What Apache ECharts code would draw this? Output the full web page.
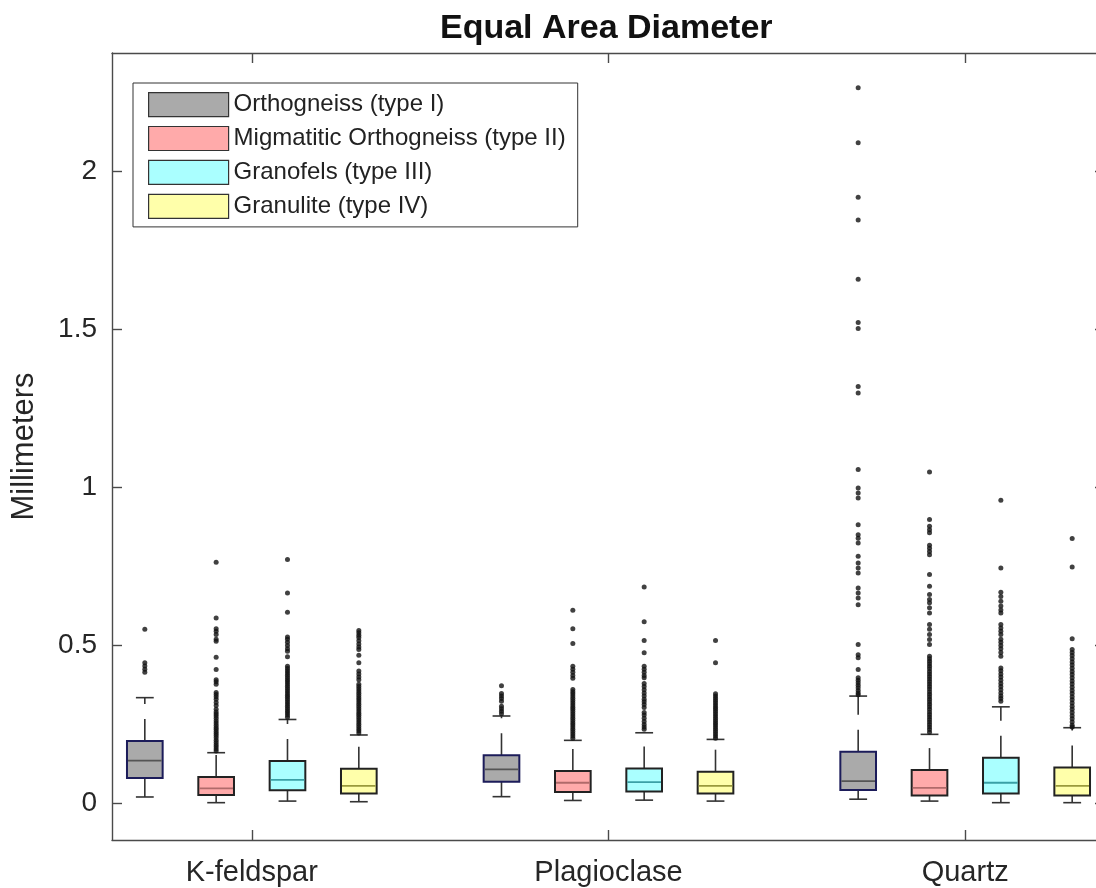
<!DOCTYPE html>
<html><head><meta charset="utf-8">
<script src="https://cdn.jsdelivr.net/npm/echarts@6/dist/echarts.min.js"></script>
<style>html,body{margin:0;padding:0;background:#fff}#c{width:1096px;height:888px}</style>
</head><body><div id="c"></div><script>
var categories = ['K-feldspar', 'Plagioclase', 'Quartz'];
var typeNames = ['Orthogneiss (type I)', 'Migmatitic Orthogneiss (type II)', 'Granofels (type III)', 'Granulite (type IV)'];
var yTicks = [0, 0.5, 1, 1.5, 2];

// box statistics per category: [lower whisker, q1, median, q3, upper whisker]
var boxTypeI   = [[0.021, 0.081, 0.136, 0.198, 0.335], [0.022, 0.069, 0.108, 0.153, 0.277], [0.014, 0.043, 0.071, 0.164, 0.340]];
var boxTypeII  = [[0.003, 0.027, 0.048, 0.084, 0.161], [0.010, 0.037, 0.066, 0.103, 0.200], [0.008, 0.026, 0.050, 0.106, 0.219]];
var boxTypeIII = [[0.008, 0.042, 0.075, 0.135, 0.266], [0.011, 0.038, 0.068, 0.111, 0.224], [0.003, 0.032, 0.066, 0.145, 0.306]];
var boxTypeIV  = [[0.006, 0.032, 0.056, 0.110, 0.217], [0.008, 0.032, 0.056, 0.101, 0.203], [0.003, 0.026, 0.056, 0.114, 0.240]];

// outliers per category
var outTypeI = [
  [0.551, 0.445, 0.435, 0.425, 0.415],
  [0.373, 0.348, 0.34, 0.332, 0.324, 0.308, 0.3, 0.292, 0.284],
  [2.263, 2.089, 1.917, 1.845, 1.658, 1.521, 1.502, 1.319, 1.298, 1.056, 0.998, 0.982, 0.966, 0.882, 0.85, 0.839, 0.824, 0.782, 0.761, 0.745, 0.729, 0.682, 0.666, 0.65, 0.629, 0.503, 0.471, 0.461, 0.424, 0.398, 0.39, 0.382, 0.374, 0.366, 0.358, 0.35, 0.344]
];
var outTypeII = [
  [0.763, 0.587, 0.553, 0.545, 0.535, 0.52, 0.513, 0.463, 0.424, 0.392, 0.385, 0.377, 0.351, 0.345, 0.338, 0.33, 0.32, 0.31, 0.298, 0.29, 0.283, 0.277, 0.27, 0.262, 0.255, 0.248, 0.241, 0.235, 0.228, 0.222, 0.215, 0.208, 0.2, 0.193, 0.186, 0.18, 0.173, 0.166],
  [0.611, 0.553, 0.506, 0.434, 0.425, 0.415, 0.405, 0.396, 0.361, 0.354, 0.347, 0.34, 0.333, 0.326, 0.319, 0.312, 0.305, 0.298, 0.291, 0.284, 0.277, 0.27, 0.263, 0.256, 0.249, 0.242, 0.235, 0.228, 0.221, 0.214, 0.207],
  [1.048, 0.898, 0.877, 0.866, 0.856, 0.817, 0.807, 0.797, 0.787, 0.724, 0.687, 0.661, 0.645, 0.635, 0.619, 0.603, 0.566, 0.551, 0.535, 0.519, 0.503, 0.466, 0.458, 0.45, 0.442, 0.434, 0.426, 0.418, 0.41, 0.402, 0.394, 0.386, 0.378, 0.37, 0.362, 0.354, 0.346, 0.338, 0.33, 0.322, 0.314, 0.306, 0.298, 0.29, 0.282, 0.274, 0.266, 0.258, 0.25, 0.242, 0.234, 0.226]
];
var outTypeIII = [
  [0.772, 0.666, 0.605, 0.527, 0.52, 0.51, 0.5, 0.49, 0.482, 0.464, 0.434, 0.427, 0.42, 0.413, 0.406, 0.399, 0.392, 0.385, 0.378, 0.371, 0.364, 0.357, 0.35, 0.343, 0.336, 0.329, 0.322, 0.315, 0.308, 0.301, 0.294, 0.287, 0.28, 0.273],
  [0.685, 0.575, 0.516, 0.477, 0.434, 0.425, 0.415, 0.405, 0.398, 0.38, 0.37, 0.36, 0.35, 0.34, 0.33, 0.322, 0.313, 0.304, 0.288, 0.28, 0.27, 0.26, 0.25, 0.242, 0.235],
  [0.959, 0.745, 0.668, 0.655, 0.64, 0.625, 0.612, 0.603, 0.566, 0.555, 0.545, 0.535, 0.52, 0.51, 0.5, 0.49, 0.478, 0.466, 0.429, 0.42, 0.41, 0.4, 0.39, 0.38, 0.37, 0.36, 0.35, 0.34, 0.332, 0.324]
];
var outTypeIV = [
  [0.547, 0.54, 0.532, 0.525, 0.515, 0.505, 0.495, 0.487, 0.469, 0.445, 0.419, 0.41, 0.4, 0.392, 0.377, 0.37, 0.363, 0.356, 0.349, 0.342, 0.335, 0.328, 0.321, 0.314, 0.307, 0.3, 0.293, 0.286, 0.279, 0.272, 0.265, 0.258, 0.251, 0.244, 0.237, 0.23, 0.223],
  [0.516, 0.445, 0.347, 0.34, 0.333, 0.326, 0.319, 0.312, 0.305, 0.298, 0.291, 0.284, 0.277, 0.27, 0.263, 0.256, 0.249, 0.242, 0.235, 0.228, 0.221, 0.214, 0.207],
  [0.838, 0.748, 0.521, 0.487, 0.478, 0.468, 0.458, 0.448, 0.438, 0.428, 0.418, 0.408, 0.398, 0.388, 0.378, 0.368, 0.358, 0.348, 0.338, 0.328, 0.318, 0.308, 0.298, 0.288, 0.278, 0.268, 0.258, 0.248, 0.242]
];

var boxes = [boxTypeI, boxTypeII, boxTypeIII, boxTypeIV];
var outliers = [outTypeI, outTypeII, outTypeIII, outTypeIV];

// styling
var fills = ['#aaaaaa', '#ffaaaa', '#aaffff', '#ffffaa'];
var medians = ['#555555', '#b06a6a', '#3aa0a6', '#9a9a3c'];
var edges = ['#1c1c5a', '#222222', '#222222', '#222222'];
var OFFSETS = [-0.3, -0.1, 0.1, 0.3];
var BOX_W = 0.1, CAP_W = 0.05;
var FONT = 'Liberation Sans, Arial, sans-serif';

function renderBox(params, api) {
  var t = params.seriesIndex;
  var x = api.value(0);
  var lo = api.coord([x, api.value(1)]);
  var q1 = api.coord([x, api.value(2)]);
  var md = api.coord([x, api.value(3)]);
  var q3 = api.coord([x, api.value(4)]);
  var hi = api.coord([x, api.value(5)]);
  var hw = api.size([BOX_W, 0])[0] / 2;
  var cw = api.size([CAP_W, 0])[0] / 2;
  var cx = lo[0];
  var wk = { stroke: '#333333', lineWidth: 1.6, lineDash: [22, 15] };
  var cap = { stroke: '#333333', lineWidth: 1.6 };
  return {
    type: 'group',
    children: [
      { type: 'line', shape: { x1: cx, y1: q3[1], x2: cx, y2: hi[1] }, style: wk },
      { type: 'line', shape: { x1: cx, y1: q1[1], x2: cx, y2: lo[1] }, style: wk },
      { type: 'line', shape: { x1: cx - cw, y1: hi[1], x2: cx + cw, y2: hi[1] }, style: cap },
      { type: 'line', shape: { x1: cx - cw, y1: lo[1], x2: cx + cw, y2: lo[1] }, style: cap },
      { type: 'rect', shape: { x: cx - hw, y: q3[1], width: hw * 2, height: q1[1] - q3[1] },
        style: { fill: fills[t], stroke: edges[t], lineWidth: 2 } },
      { type: 'line', shape: { x1: cx - hw + 1, y1: md[1], x2: cx + hw - 1, y2: md[1] },
        style: { stroke: medians[t], lineWidth: 1.8 } }
    ]
  };
}

var series = [];
for (var t = 0; t < 4; t++) {
  var data = [];
  for (var c = 0; c < categories.length; c++) {
    var b = boxes[t][c];
    data.push([c + 1 + OFFSETS[t], b[0], b[1], b[2], b[3], b[4]]);
  }
  series.push({
    type: 'custom', name: typeNames[t], renderItem: renderBox,
    itemStyle: { color: fills[t] },
    encode: { x: 0, y: [1, 2, 3, 4, 5] },
    data: data, z: 2
  });
}
var outData = [];
for (var t2 = 0; t2 < 4; t2++) {
  for (var c2 = 0; c2 < categories.length; c2++) {
    outliers[t2][c2].forEach(function (v) { outData.push([c2 + 1 + OFFSETS[t2], v]); });
  }
}
series.push({
  type: 'scatter', name: 'outliers', data: outData, symbol: 'circle', symbolSize: 5,
  itemStyle: { color: '#111111' }, z: 3, silent: true
});

var axisLine = { show: true, onZero: false, lineStyle: { color: '#4a4a4a', width: 1.4 } };
var tickStyle = { color: '#4a4a4a', width: 1.4 };
var chart = echarts.init(document.getElementById('c'), null, { renderer: 'canvas' });
chart.setOption({
  animation: false,
  backgroundColor: '#ffffff',
  title: {
    text: 'Equal Area Diameter', left: 440, top: 12, padding: 0,
    textStyle: { fontFamily: FONT, fontSize: 34, fontWeight: 'bold', color: '#111111' }
  },
  legend: {
    orient: 'vertical', left: 133, top: 83,
    padding: [9, 12, 8, 15], itemGap: 8.7, itemWidth: 80, itemHeight: 24, itemTextGap: 8,
    borderColor: '#333333', borderWidth: 1, backgroundColor: '#ffffff',
    selectedMode: false,
    textStyle: { fontFamily: FONT, fontSize: 24, color: '#222222', lineHeight: 24 },
    data: typeNames.map(function (n, i) {
      return { name: n, icon: 'rect', itemStyle: { color: fills[i], borderColor: '#333333', borderWidth: 1.2 } };
    })
  },
  grid: { left: 112, top: 53, width: 993, height: 787, containLabel: false, outerBoundsMode: 'none' },
  xAxis: [{
    type: 'value', min: 0.608, max: 3.392, position: 'bottom',
    axisLine: axisLine, splitLine: { show: false },
    axisTick: { show: true, inside: true, length: 10, customValues: [1, 2, 3], lineStyle: tickStyle },
    axisLabel: {
      show: true, customValues: [1, 2, 3], margin: 18,
      formatter: function (v) { return categories[Math.round(v) - 1] || ''; },
      fontFamily: FONT, fontSize: 29, color: '#262626'
    }
  }, {
    type: 'value', min: 0.608, max: 3.392, position: 'top',
    axisLine: axisLine, splitLine: { show: false },
    axisTick: { show: true, inside: true, length: 10, customValues: [1, 2, 3], lineStyle: tickStyle },
    axisLabel: { show: false }
  }],
  yAxis: [{
    type: 'value', min: -0.115, max: 2.373, position: 'left',
    name: 'Millimeters', nameLocation: 'middle', nameRotate: 90, nameGap: 72, nameMoveOverlap: false,
    nameTextStyle: { fontFamily: FONT, fontSize: 31, color: '#262626' },
    axisLine: axisLine, splitLine: { show: false },
    axisTick: { show: true, inside: true, length: 10, customValues: yTicks, lineStyle: tickStyle },
    axisLabel: {
      show: true, customValues: yTicks, margin: 15,
      formatter: function (v) { return String(v); },
      fontFamily: FONT, fontSize: 28, color: '#262626'
    }
  }, {
    type: 'value', min: -0.115, max: 2.373, position: 'right',
    axisLine: axisLine, splitLine: { show: false },
    axisTick: { show: true, inside: true, length: 10, customValues: yTicks, lineStyle: tickStyle },
    axisLabel: { show: false }
  }],
  series: series
});
</script></body></html>
